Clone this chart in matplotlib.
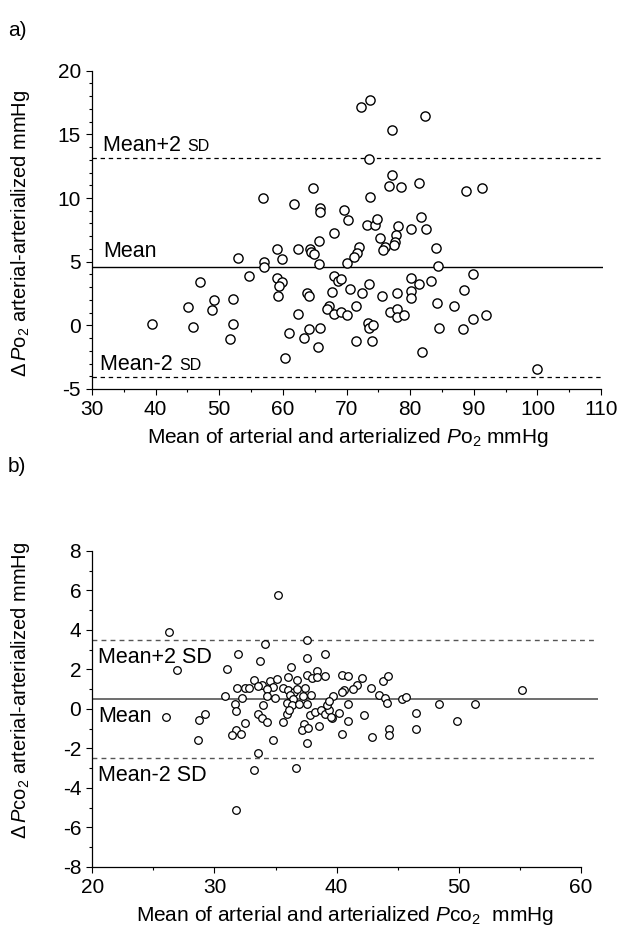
import matplotlib
matplotlib.use("Agg")
import matplotlib.pyplot as plt
from matplotlib.ticker import MultipleLocator
from matplotlib.transforms import offset_copy

plt.rcParams['font.family'] = ['Liberation Sans', 'DejaVu Sans']
plt.rcParams['mathtext.fontset'] = 'custom'
plt.rcParams['mathtext.rm'] = 'Liberation Sans'
plt.rcParams['mathtext.it'] = 'Liberation Sans:italic'
plt.rcParams['mathtext.sf'] = 'Liberation Sans'
plt.rcParams['axes.unicode_minus'] = False

# ---------------- Panel a data (PO2) ----------------
po2_mean = [56.9, 61.7, 64.8, 65.8, 65.8, 69.6, 70.3, 68.0, 65.6, 72.3,
            73.7, 82.3, 77.1, 73.5, 77.1, 76.7, 78.5, 81.4, 88.7, 91.3,
            73.7, 73.2, 74.4, 74.8, 78.1, 77.7, 80.2, 82.5, 81.7, 75.2,
            39.4, 45.1, 45.9, 46.9, 49.2, 48.9, 52.2, 52.2, 51.7, 52.9,
            54.6, 57.1, 57.1, 59.1, 59.8, 59.0, 59.9, 59.4, 59.3, 61.0,
            60.4, 62.3, 64.2, 64.4, 64.9, 65.6, 70.1, 63.8, 64.1, 62.3,
            64.1, 63.3, 65.8, 65.5, 68.1, 68.7, 69.2, 67.7, 67.2, 67.0,
            68.1, 69.1, 70.0, 70.6,
            77.6, 77.4, 76.1, 75.8, 72.0, 71.6, 71.2, 84.1, 84.3, 89.9,
            73.5, 72.5, 75.6, 71.5, 78.0, 80.1, 80.2, 80.1, 81.4, 83.3,
            76.8, 78.0, 78.0, 79.1, 84.2, 86.9, 88.4, 89.8, 91.9, 84.6,
            88.3, 73.4, 73.5, 74.1, 71.5, 74.0, 81.9, 100.0]
po2_diff = [9.98, 9.53, 10.81, 9.24, 8.93, 9.06, 8.25, 7.23, 6.65, 17.15,
            17.70, 16.45, 15.32, 13.04, 11.81, 10.92, 10.84, 11.16, 10.55, 10.79,
            10.11, 7.91, 7.91, 8.38, 7.80, 7.12, 7.57, 7.59, 8.49, 6.89,
            0.11, 1.42, -0.15, 3.43, 1.99, 1.21, 2.07, 0.11, -1.10, 5.27,
            3.88, 4.98, 4.61, 6.02, 5.24, 3.74, 3.38, 3.09, 2.28, -0.62,
            -2.54, 6.00, 5.97, 5.79, 5.58, 4.80, 4.92, 2.56, 2.28, 0.92,
            -0.31, -1.02, -0.18, -1.68, 3.88, 3.48, 3.64, 2.64, 1.52, 1.28,
            0.92, 1.07, 0.81, 2.86,
            6.57, 6.31, 6.18, 5.92, 6.18, 5.71, 5.35, 6.10, 4.69, 4.03,
            3.25, 2.52, 2.31, 1.52, 2.52, 3.74, 2.70, 2.17, 3.22, 3.46,
            1.07, 1.26, 0.68, 0.79, 1.73, 1.50, 2.75, 0.52, 0.81, -0.21,
            -0.31, 0.16, -0.23, 0.00, -1.25, -1.23, -2.07, -3.41]
po2_lines = [13.17, 4.57, -4.03]   # mean+2SD, mean, mean-2SD

# ---------------- Panel b data (PCO2) ----------------
pco2_mean = [35.17, 26.28, 26.96, 31.9, 31.05, 34.11, 33.72, 37.54, 37.54, 39.04,
             36.29, 36.04, 36.78, 37.54, 37.95, 38.36, 38.36, 39.04, 40.41, 40.95,
             33.23, 33.86, 33.58, 31.82, 32.5, 32.85, 34.54, 35.09, 34.81, 34.27,
             35.63, 36.04, 36.51, 36.73, 37.41, 30.86, 32.23, 34.27, 34.95, 36.18,
             36.45, 37.27, 37.87, 31.68, 33.94, 35.91, 36.37, 36.94, 37.54,
             42.1, 41.64, 41.36, 40.6, 40.41, 39.72, 42.81, 43.81, 44.22, 43.46,
             43.95, 44.14, 45.32, 45.67, 48.37, 51.29, 55.19, 40.95,
             40.19, 39.59, 40.9, 42.21, 40.46, 42.86, 44.28, 44.28, 46.51, 46.46, 49.84,
             26.03, 28.76, 29.22, 28.63, 31.73, 32.5, 31.76, 31.46, 32.14, 33.53,
             33.26, 36.65, 31.73, 33.58, 33.91, 34.27, 34.81, 35.58, 35.91, 36.12,
             37.82, 38.22, 38.69, 39.04, 39.39, 39.51, 37.35, 37.18, 37.68, 38.58,
             37.54, 39.23, 39.39]
pco2_diff = [5.78, 3.89, 1.98, 2.79, 2.03, 3.30, 2.42, 3.50, 2.57, 2.78,
             2.10, 1.61, 1.44, 1.73, 1.56, 1.93, 1.61, 1.68, 1.73, 1.64,
             1.44, 1.22, 1.17, 1.08, 1.08, 1.08, 1.39, 1.51, 1.10, 1.00,
             1.05, 0.97, 0.85, 1.00, 1.05, 0.63, 0.55, 0.63, 0.55, 0.71,
             0.50, 0.66, 0.71, 0.26, 0.17, 0.29, 0.21, 0.26, 0.24,
             1.56, 1.19, 1.00, 0.97, 0.85, 0.63, 1.08, 1.39, 1.68, 0.71,
             0.55, 0.32, 0.50, 0.60, 0.26, 0.26, 0.98, 0.24,
             -0.21, -0.47, -0.60, -0.33, -1.28, -1.41, -1.01, -1.35, -0.21, -1.01, -0.60,
             -0.42, -0.59, -0.26, -1.58, -0.13, -0.74, -1.06, -1.35, -1.25, -2.24,
             -3.10, -3.00, -5.11, -0.25, -0.47, -0.67, -1.57, -0.69, -0.25, -0.05,
             -0.30, -0.18, -0.08, -0.25, -0.05, -0.39, -0.77, -1.06, -0.97, -0.89,
             -1.73, 0.21, 0.38]
pco2_lines = [3.48, 0.48, -2.47]

W, H = 621, 942
fig = plt.figure(figsize=(W / 100, H / 100), dpi=100)

def fx(px):
    return px / W

def fy(py):
    return 1 - py / H

axA = fig.add_axes([fx(92), fy(389), fx(603) - fx(92), fy(70.7) - fy(389)])
axB = fig.add_axes([fx(92.3), fy(866.7), fx(598) - fx(92.3), fy(551) - fy(866.7)])

TICK_FS = 15
XLABEL_FS = 15
YLABEL_FS = 14.5

def style(ax, xlim, xb, ylim, xmaj, xmin, ymaj, ymin):
    ax.set_xlim(*xlim)
    ax.set_ylim(*ylim)
    ax.spines['top'].set_visible(False)
    ax.spines['right'].set_visible(False)
    ax.spines['bottom'].set_bounds(*xb)
    for s in ('left', 'bottom'):
        ax.spines[s].set_linewidth(0.9)
    ax.xaxis.set_major_locator(MultipleLocator(xmaj))
    ax.xaxis.set_minor_locator(MultipleLocator(xmin))
    ax.yaxis.set_major_locator(MultipleLocator(ymaj))
    ax.yaxis.set_minor_locator(MultipleLocator(ymin))
    ax.tick_params(which='major', direction='out', length=4, width=0.8,
                   labelsize=TICK_FS, pad=4)
    ax.tick_params(which='minor', direction='out', length=2.5, width=0.8)
    ax.set_xticks([t for t in ax.get_xticks() if xb[0] <= t <= xb[1]])

# ---------- Panel a ----------
style(axA, (30, 110.3), (30, 110), (-5, 20), 10, 5, 5, 1)
axA.axhline(po2_lines[1], color='black', lw=1.0)
for v in (po2_lines[0], po2_lines[2]):
    axA.axhline(v, color='black', lw=0.9, ls=(0, (3.5, 3)))
axA.scatter(po2_mean, po2_diff, s=44, facecolors='white', edgecolors='black',
            linewidths=1.0, zorder=3, clip_on=False)

fig.canvas.draw()
renderer = fig.canvas.get_renderer()

def sc_label(ax, x, y, main, small, dy_pts):
    tr = offset_copy(ax.transData, fig=fig, x=0, y=dy_pts, units='points')
    t1 = ax.text(x, y, main, transform=tr, fontsize=15.5, va='baseline', ha='left')
    if small:
        bb = t1.get_window_extent(renderer=renderer)
        base = tr.transform((x, y))
        ax.text(bb.x1, base[1], small, transform=None, fontsize=11.5,
                va='baseline', ha='left')

sc_label(axA, 31.8, po2_lines[0], 'Mean+2 ', 'SD', 5)
sc_label(axA, 31.8, po2_lines[1], 'Mean', '', 7)
sc_label(axA, 31.3, po2_lines[2], 'Mean-2 ', 'SD', 5)

axA.set_xlabel(r'Mean of arterial and arterialized $\mathit{P}\mathrm{o}_{2}$ mmHg',
               fontsize=XLABEL_FS, labelpad=5)
axA.set_ylabel(r'$\Delta\,\mathit{P}\mathrm{o}_{2}$ arterial-arterialized mmHg',
               fontsize=YLABEL_FS)
axA.yaxis.set_label_coords(-0.117, 0.49)

# ---------- Panel b ----------
style(axB, (20, 61.4), (20, 60), (-8, 8), 10, 5, 2, 1)
axB.axhline(pco2_lines[1], color='#555555', lw=1.2)
for v in (pco2_lines[0], pco2_lines[2]):
    axB.axhline(v, color='#555555', lw=1.0, ls=(0, (3.5, 3)))
axB.scatter(pco2_mean, pco2_diff, s=30, facecolors='white', edgecolors='black',
            linewidths=0.9, zorder=3, clip_on=False)

for v, txt in zip(pco2_lines, ['Mean+2 SD', 'Mean', 'Mean-2 SD']):
    trb = offset_copy(axB.transData, fig=fig, x=0, y=-5, units='points')
    axB.text(20.5, v, txt, transform=trb, fontsize=15.5, va='top', ha='left')

axB.set_xlabel(r'Mean of arterial and arterialized $\mathit{P}\mathrm{co}_{2}$  mmHg',
               fontsize=XLABEL_FS, labelpad=5)
axB.set_ylabel(r'$\Delta\,\mathit{P}\mathrm{co}_{2}$ arterial-arterialized mmHg',
               fontsize=YLABEL_FS)
axB.yaxis.set_label_coords(-0.119, 0.56)

fig.text(fx(8), fy(30), 'a)', fontsize=15, va='center', ha='left')
fig.text(fx(8), fy(467), 'b)', fontsize=15, va='center', ha='left')

fig.savefig('out.png', dpi=100)
